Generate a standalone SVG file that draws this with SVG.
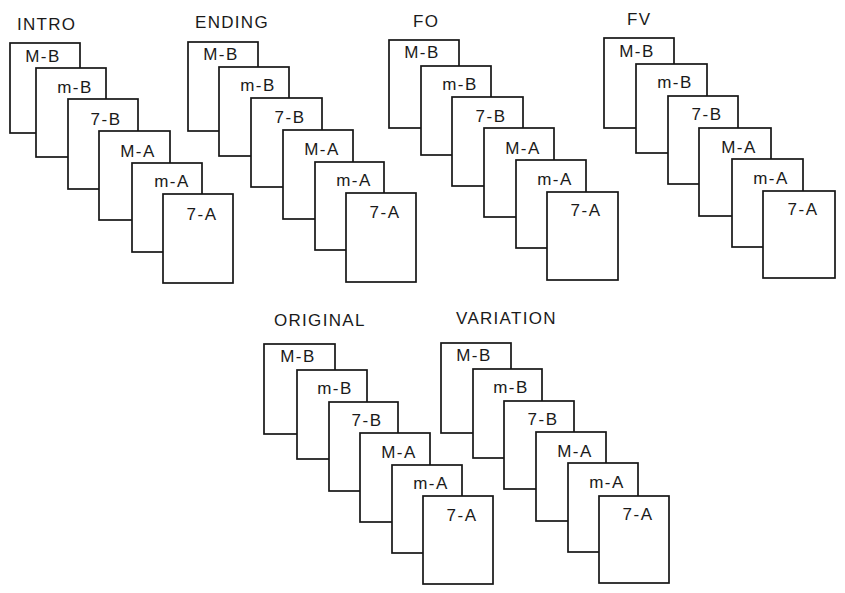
<svg xmlns="http://www.w3.org/2000/svg" width="845" height="593" viewBox="0 0 845 593">
<style>
.c{fill:#fff;stroke:#161616;stroke-width:1.7}
.t{font-family:"Liberation Sans",Arial,sans-serif;font-size:17px;fill:#1a1a1a;letter-spacing:1.3px}
.l{font-family:"Liberation Sans",Arial,sans-serif;font-size:17px;fill:#1a1a1a;letter-spacing:1.5px;text-anchor:middle}
</style>
<rect width="845" height="593" fill="#fff"/>
<g id="intro">
<text class="t" x="17" y="30">INTRO</text>
<g id="intro-MB"><rect class="c" x="10" y="43" width="70" height="90"/><text class="l" x="43" y="62">M-B</text></g>
<g id="intro-mB"><rect class="c" x="36" y="68" width="70" height="89"/><text class="l" x="75" y="93">m-B</text></g>
<g id="intro-7B"><rect class="c" x="68" y="99" width="70" height="90"/><text class="l" x="106" y="125">7-B</text></g>
<g id="intro-MA"><rect class="c" x="99" y="131" width="71" height="89"/><text class="l" x="138" y="157">M-A</text></g>
<g id="intro-mA"><rect class="c" x="132" y="163" width="70" height="89"/><text class="l" x="172" y="187">m-A</text></g>
<g id="intro-7A"><rect class="c" x="163" y="194" width="70" height="89"/><text class="l" x="202" y="220">7-A</text></g>
</g>
<g id="ending">
<text class="t" x="195" y="28">ENDING</text>
<g id="ending-MB"><rect class="c" x="188" y="42" width="70" height="89"/><text class="l" x="221" y="60">M-B</text></g>
<g id="ending-mB"><rect class="c" x="219" y="67" width="70" height="89"/><text class="l" x="258" y="91">m-B</text></g>
<g id="ending-7B"><rect class="c" x="251" y="98" width="71" height="89"/><text class="l" x="290" y="123">7-B</text></g>
<g id="ending-MA"><rect class="c" x="283" y="130" width="70" height="89"/><text class="l" x="322" y="155">M-A</text></g>
<g id="ending-mA"><rect class="c" x="315" y="162" width="69" height="88"/><text class="l" x="354" y="186">m-A</text></g>
<g id="ending-7A"><rect class="c" x="346" y="193" width="70" height="89"/><text class="l" x="385" y="218">7-A</text></g>
</g>
<g id="fo">
<text class="t" x="413" y="27">FO</text>
<g id="fo-MB"><rect class="c" x="389" y="40" width="70" height="88"/><text class="l" x="422" y="58">M-B</text></g>
<g id="fo-mB"><rect class="c" x="421" y="66" width="70" height="89"/><text class="l" x="460" y="90">m-B</text></g>
<g id="fo-7B"><rect class="c" x="452" y="97" width="71" height="89"/><text class="l" x="491" y="122">7-B</text></g>
<g id="fo-MA"><rect class="c" x="484" y="128" width="70" height="89"/><text class="l" x="523" y="154">M-A</text></g>
<g id="fo-mA"><rect class="c" x="516" y="160" width="70" height="88"/><text class="l" x="555" y="185">m-A</text></g>
<g id="fo-7A"><rect class="c" x="547" y="192" width="71" height="88"/><text class="l" x="586" y="216">7-A</text></g>
</g>
<g id="fv">
<text class="t" x="627" y="25">FV</text>
<g id="fv-MB"><rect class="c" x="604" y="38" width="70" height="90"/><text class="l" x="637" y="57">M-B</text></g>
<g id="fv-mB"><rect class="c" x="636" y="64" width="71" height="89"/><text class="l" x="675" y="88">m-B</text></g>
<g id="fv-7B"><rect class="c" x="668" y="96" width="70" height="88"/><text class="l" x="707" y="120">7-B</text></g>
<g id="fv-MA"><rect class="c" x="699" y="128" width="72" height="88"/><text class="l" x="739" y="153">M-A</text></g>
<g id="fv-mA"><rect class="c" x="732" y="159" width="71" height="88"/><text class="l" x="771" y="184">m-A</text></g>
<g id="fv-7A"><rect class="c" x="763" y="191" width="72" height="87"/><text class="l" x="803" y="215">7-A</text></g>
</g>
<g id="original">
<text class="t" x="274" y="326">ORIGINAL</text>
<g id="original-MB"><rect class="c" x="264" y="344" width="71" height="90"/><text class="l" x="298" y="362">M-B</text></g>
<g id="original-mB"><rect class="c" x="297" y="370" width="70" height="89"/><text class="l" x="335" y="394">m-B</text></g>
<g id="original-7B"><rect class="c" x="329" y="402" width="69" height="89"/><text class="l" x="367" y="426">7-B</text></g>
<g id="original-MA"><rect class="c" x="360" y="433" width="70" height="89"/><text class="l" x="399" y="458">M-A</text></g>
<g id="original-mA"><rect class="c" x="392" y="465" width="70" height="88"/><text class="l" x="431" y="489">m-A</text></g>
<g id="original-7A"><rect class="c" x="423" y="496" width="70" height="88"/><text class="l" x="462" y="521">7-A</text></g>
</g>
<g id="variation">
<text class="t" x="456" y="324">VARIATION</text>
<g id="variation-MB"><rect class="c" x="441" y="343" width="70" height="90"/><text class="l" x="474" y="361">M-B</text></g>
<g id="variation-mB"><rect class="c" x="473" y="369" width="69" height="89"/><text class="l" x="511" y="393">m-B</text></g>
<g id="variation-7B"><rect class="c" x="504" y="401" width="70" height="88"/><text class="l" x="543" y="425">7-B</text></g>
<g id="variation-MA"><rect class="c" x="536" y="432" width="70" height="89"/><text class="l" x="575" y="457">M-A</text></g>
<g id="variation-mA"><rect class="c" x="568" y="463" width="70" height="89"/><text class="l" x="607" y="488">m-A</text></g>
<g id="variation-7A"><rect class="c" x="599" y="496" width="70" height="87"/><text class="l" x="638" y="520">7-A</text></g>
</g>
</svg>
